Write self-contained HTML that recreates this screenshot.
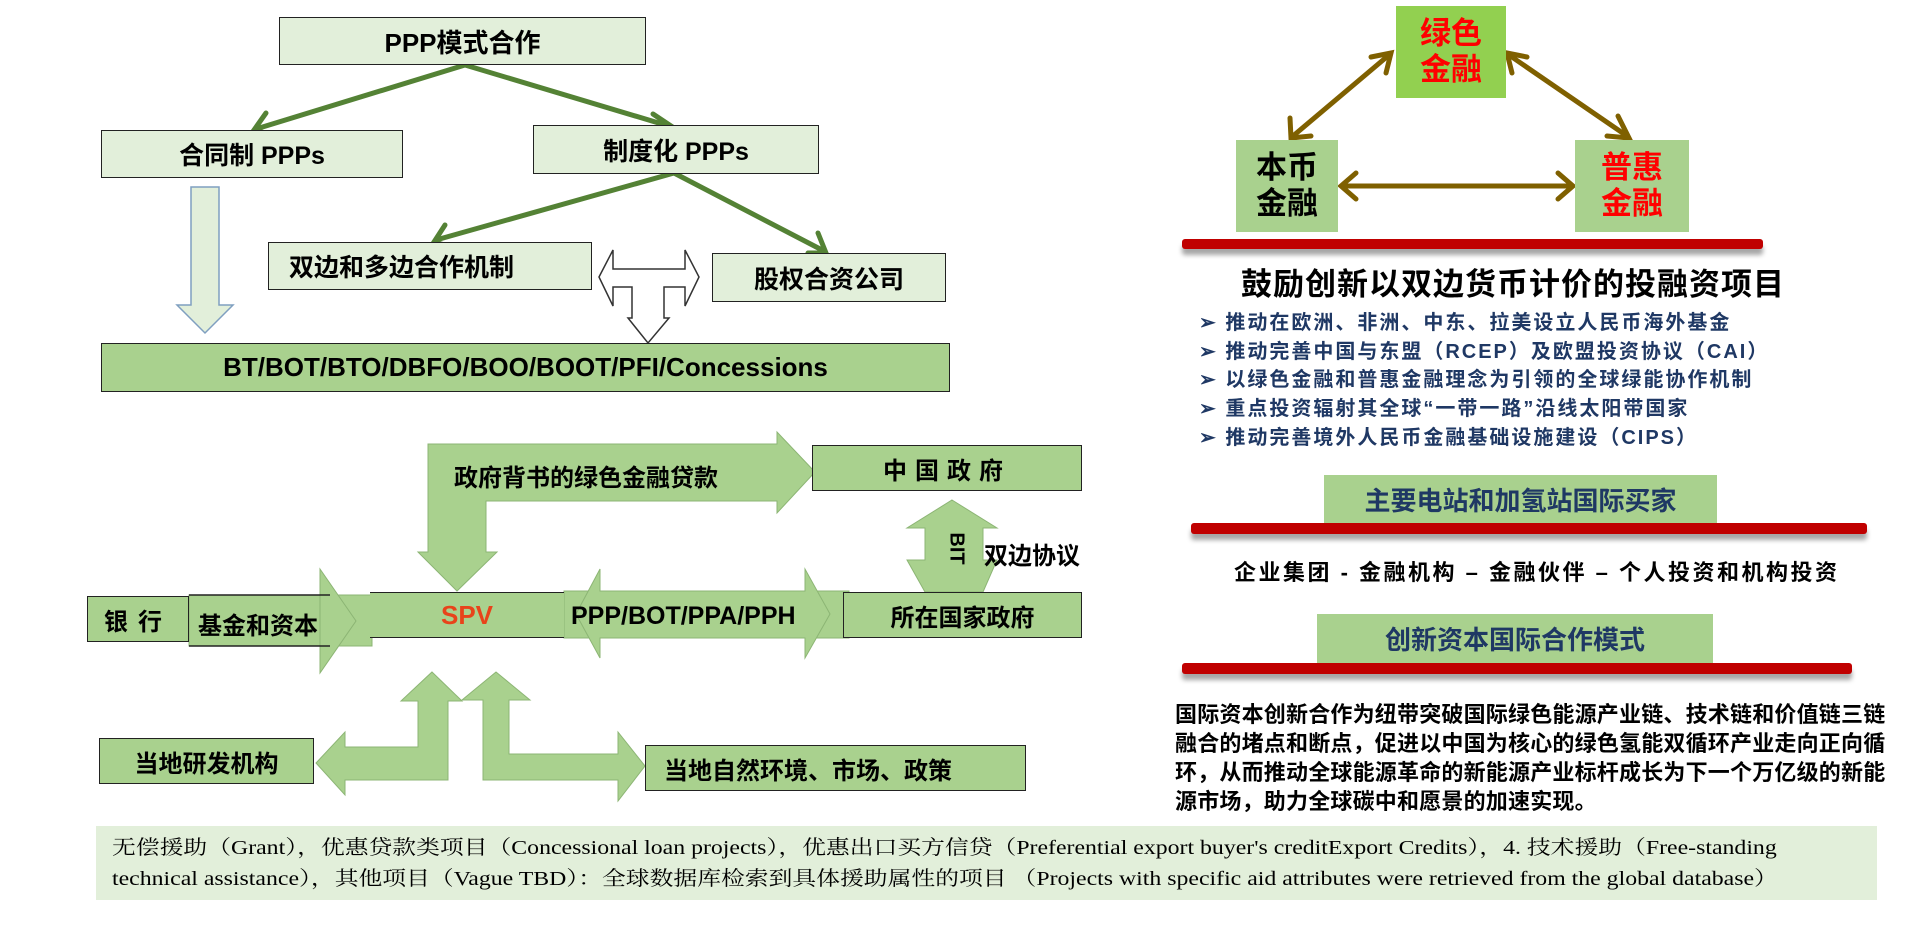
<!DOCTYPE html>
<html><head><meta charset="utf-8">
<style>
body{margin:0;width:1909px;height:934px;background:#fff;position:relative;overflow:hidden;font-family:"Liberation Sans","Noto Sans CJK SC",sans-serif;font-weight:bold;}
.b{position:absolute;box-sizing:border-box;display:flex;align-items:center;justify-content:center;color:#000;white-space:nowrap;}
.lt{background:#e2efda;border:1.5px solid #222;}
.dk{background:#a9d18e;border:1.5px solid #222;}
.t{position:absolute;white-space:nowrap;}
.bar{position:absolute;background:#c00000;border-radius:3px;box-shadow:0 6px 5px rgba(0,0,0,0.35);}
svg{position:absolute;left:0;top:0;}
</style></head><body>
<svg width="1909" height="934">
<!-- left light down arrow -->
<polygon points="191,187 219,187 219,305 233,305 205,333 177,305 191,305" fill="#e2efda" stroke="#7f9fc0" stroke-width="1.5"/>
<!-- T arrow -->
<polygon points="599,277 613,250 613,269 685,269 685,250 699,277 685,306 685,287 664,287 664,318 669,318 648,343 628,318 632,318 632,287 613,287 613,306" fill="#fff" stroke="#333" stroke-width="1.5"/>
<!-- green arrows -->
<g stroke="#548235" stroke-width="5" fill="none" stroke-linecap="round">
<line x1="465" y1="65" x2="256" y2="129"/><polyline points="266,113 254,130 273,135"/>
<line x1="465" y1="65" x2="672" y2="127"/><polyline points="653,114 674,128 663,140"/>
<line x1="674" y1="173" x2="436" y2="240"/><polyline points="445,225 434,242 452,247"/>
<line x1="674" y1="173" x2="824" y2="251"/><polyline points="818,233 826,253 808,253"/>
</g>
<!-- right triangle arrows -->
<g stroke="#7f6000" stroke-width="5" fill="none" stroke-linecap="round">
<line x1="1293" y1="136" x2="1389" y2="55"/>
<polyline points="1290,118 1291,138 1311,136"/><polyline points="1371,57 1391,53 1386,73"/>
<line x1="1509" y1="55" x2="1627" y2="136"/>
<polyline points="1512,73 1507,53 1527,57"/><polyline points="1618,116 1629,138 1607,136"/>
<line x1="1343" y1="186" x2="1571" y2="186"/>
<polyline points="1356,173 1341,186 1356,199"/><polyline points="1558,173 1573,186 1558,199"/>
</g>
<!-- bottom-left flow shapes -->
<g fill="#a9d18e" stroke="#8cb574" stroke-width="1">
<polygon points="428,552 418,552 457,591 497,552 486,552 486,501 777,501 777,513 815,472 777,432 777,444 428,444"/>
<rect x="189" y="595" width="183" height="51"/>
<polygon points="320,569 356,621 320,673"/>
<rect x="564" y="591" width="285" height="47"/>
<polygon points="576,614 600,569 600,591 805,591 805,569 830,614 805,658 805,638 600,638 600,658"/>
<polygon points="952,500 997,528 983,528 983,560 997,560 983,592 925,592 907,560 925,560 925,528 907,528"/>
<polygon points="432,672 462,701 448,701 448,780 345,780 345,795 316,763 345,732 345,747 418,747 418,701 401,701"/>
<polygon points="496,672 530,700 509,700 509,754 618,754 618,732 645,766 618,801 618,780 483,780 483,700 462,700"/>
</g>
<line x1="189" y1="595" x2="330" y2="595" stroke="#222" stroke-width="1.5"/>
<line x1="189" y1="646" x2="330" y2="646" stroke="#222" stroke-width="1.5"/>
</svg>

<div class="b lt" style="left:279px;top:17px;width:367px;height:48px;font-size:26px;">PPP模式合作</div>
<div class="b lt" style="left:101px;top:130px;width:302px;height:48px;font-size:25px;">合同制 PPPs</div>
<div class="b lt" style="left:533px;top:125px;width:286px;height:49px;font-size:25px;">制度化 PPPs</div>
<div class="b lt" style="left:268px;top:242px;width:324px;height:48px;font-size:25px;justify-content:flex-start;padding-left:20px;">双边和多边合作机制</div>
<div class="b lt" style="left:712px;top:253px;width:234px;height:49px;font-size:25px;">股权合资公司</div>
<div class="b dk" style="left:101px;top:343px;width:849px;height:49px;font-size:26px;">BT/BOT/BTO/DBFO/BOO/BOOT/PFI/Concessions</div>

<div class="t" style="left:454px;top:458px;font-size:24px;">政府背书的绿色金融贷款</div>
<div class="b dk" style="left:812px;top:445px;width:270px;height:46px;font-size:24px;letter-spacing:8px;">中国政府</div>
<div class="t" style="left:940px;top:537px;font-size:20px;transform:rotate(90deg);transform-origin:center;">BIT</div>
<div class="t" style="left:984px;top:536px;font-size:24px;">双边协议</div>
<div class="b dk" style="left:87px;top:596px;width:102px;height:46px;font-size:24px;letter-spacing:10px;">银行</div>
<div class="t" style="left:198px;top:606px;font-size:24px;">基金和资本</div>
<div class="b" style="left:370px;top:592px;width:194px;height:46px;background:#a9d18e;border-top:1.5px solid #222;border-bottom:1.5px solid #222;font-size:26px;color:#e8431a;">SPV</div>
<div class="t" style="left:571px;top:602px;font-size:25px;">PPP/BOT/PPA/PPH</div>
<div class="b dk" style="left:843px;top:592px;width:239px;height:46px;font-size:24px;">所在国家政府</div>
<div class="b dk" style="left:99px;top:738px;width:215px;height:46px;font-size:24px;">当地研发机构</div>
<div class="b dk" style="left:645px;top:745px;width:381px;height:46px;font-size:24px;justify-content:flex-start;padding-left:18px;">当地自然环境、市场、政策</div>

<!-- right panel -->
<div class="b" style="left:1396px;top:6px;width:110px;height:92px;background:#92d050;color:#f00;font-size:31px;line-height:36px;text-align:center;">绿色<br>金融</div>
<div class="b" style="left:1236px;top:140px;width:102px;height:92px;background:#a9d18e;color:#000;font-size:31px;line-height:36px;text-align:center;">本币<br>金融</div>
<div class="b" style="left:1575px;top:140px;width:114px;height:92px;background:#a9d18e;color:#f00;font-size:31px;line-height:36px;text-align:center;">普惠<br>金融</div>
<div class="bar" style="left:1182px;top:239px;width:581px;height:10px;"></div>
<div class="t" style="left:1241px;top:259px;font-size:31px;letter-spacing:1px;">鼓励创新以双边货币计价的投融资项目</div>
<div class="t" style="left:1199px;top:309px;font-size:20px;line-height:28.7px;color:#1f3864;letter-spacing:2px;">
➢ 推动在欧洲、非洲、中东、拉美设立人民币海外基金<br>
➢ 推动完善中国与东盟（RCEP）及欧盟投资协议（CAI）<br>
➢ 以绿色金融和普惠金融理念为引领的全球绿能协作机制<br>
➢ 重点投资辐射其全球“一带一路”沿线太阳带国家<br>
➢ 推动完善境外人民币金融基础设施建设（CIPS）</div>

<div class="b" style="left:1324px;top:475px;width:393px;height:48px;background:#a9d18e;color:#1f3864;font-size:26px;">主要电站和加氢站国际买家</div>
<div class="bar" style="left:1191px;top:523px;width:676px;height:11px;"></div>
<div class="t" style="left:1234px;top:555px;font-size:22px;letter-spacing:2.5px;">企业集团 - 金融机构 – 金融伙伴 –  个人投资和机构投资</div>
<div class="b" style="left:1317px;top:614px;width:396px;height:49px;background:#a9d18e;color:#1f3864;font-size:26px;">创新资本国际合作模式</div>
<div class="bar" style="left:1182px;top:663px;width:670px;height:11px;"></div>
<div class="t" style="left:1175px;top:700px;font-size:22px;line-height:29px;letter-spacing:0.2px;">国际资本创新合作为纽带突破国际绿色能源产业链、技术链和价值链三链<br>融合的堵点和断点，促进以中国为核心的绿色氢能双循环产业走向正向循<br>环，从而推动全球能源革命的新能源产业标杆成长为下一个万亿级的新能<br>源市场，助力全球碳中和愿景的加速实现。</div>

<div style="position:absolute;left:96px;top:826px;width:1781px;height:74px;background:#e2efda;"></div>
<div class="t" style="left:112px;top:833px;font-family:'Liberation Serif','Noto Serif CJK SC',serif;font-weight:normal;font-size:20px;line-height:31px;transform:scaleX(1.19);transform-origin:left top;">无偿援助（Grant），优惠贷款类项目（Concessional loan projects），优惠出口买方信贷（Preferential export buyer's creditExport Credits），4. 技术援助（Free-standing<br>technical assistance），其他项目（Vague TBD）：全球数据库检索到具体援助属性的项目 （Projects with specific aid attributes were retrieved from the global database）</div>
</body></html>
